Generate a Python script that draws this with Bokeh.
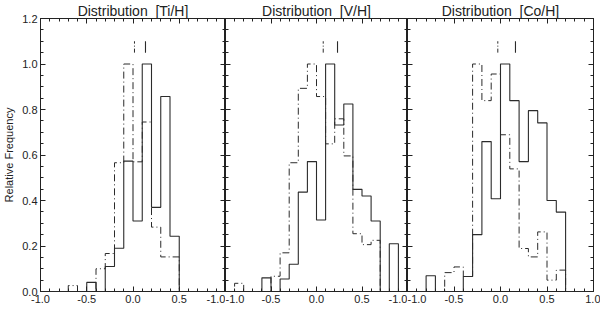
from bokeh.plotting import figure
from bokeh.layouts import row
from bokeh.models import Range1d, LinearAxis, FixedTicker, PrintfTickFormatter
from bokeh.embed import file_html
from bokeh.resources import INLINE

# ---- data ----
bin_edges = [-1.0, -0.9, -0.8, -0.7, -0.6, -0.5, -0.4, -0.3, -0.2, -0.1, 0.0,
             0.1, 0.2, 0.3, 0.4, 0.5, 0.6, 0.7, 0.8, 0.9, 1.0]

titles = ["Distribution \u00a0[Ti/H]", "Distribution \u00a0[V/H]", "Distribution \u00a0[Co/H]"]

ti_solid = [0, 0, 0, 0, 0, 0.04, 0, 0.11, 0.19, 0.573, 0.31, 1.0, 0.37, 0.857, 0.243, 0, 0, 0, 0, 0]
ti_dash = [0, 0, 0, 0.026, 0, 0, 0.10, 0.167, 0.566, 1.0, 0.57, 0.745, 0.283, 0.152, 0.152, 0, 0, 0, 0, 0]

v_solid = [0, 0, 0, 0, 0.06, 0, 0.055, 0.12, 0.437, 0.571, 0.314, 1.0, 0.732, 0.824, 0.449, 0.42, 0.31, 0, 0.21, 0]
v_dash = [0, 0.036, 0, 0, 0, 0.067, 0.17, 0.566, 0.893, 1.0, 0.857, 0.649, 0.759, 0.596, 0.254, 0.206, 0.225, 0, 0, 0]

co_solid = [0, 0, 0.069, 0, 0, 0, 0.066, 0.25, 0.659, 0.408, 1.0, 0.839, 0.571, 0.795, 0.741, 0.40, 0.349, 0, 0, 0]
co_dash = [0, 0, 0, 0, 0.083, 0.108, 0.066, 1.0, 0.839, 0.956, 0.689, 0.539, 0.189, 0.152, 0.262, 0.05, 0.094, 0, 0, 0]

mean_solid = [0.135, 0.231, 0.161]
mean_dash = [0.016, 0.074, -0.029]
mean_marker_y = [1.05, 1.10]

x_major = [-1.0, -0.5, 0.0, 0.5, 1.0]
y_major = [0.0, 0.2, 0.4, 0.6, 0.8, 1.0, 1.2]
x_minor = [round(-1.0 + 0.1 * k, 2) for k in range(21)]
y_minor = [round(0.05 * k, 2) for k in range(25)]

solids = [ti_solid, v_solid, co_solid]
dashes = [ti_dash, v_dash, co_dash]

# ---- styling ----
FONT = "Liberation Sans"
TXT = "#222222"
LINE = "#2b2b2b"
FRAME_H = 273
frame_widths = [185, 182, 186]


def tick_style(ax, show_labels):
    ax.major_tick_in = 5
    ax.major_tick_out = 0
    ax.minor_tick_in = 3
    ax.minor_tick_out = 0
    ax.axis_line_color = None
    ax.major_tick_line_color = TXT
    ax.minor_tick_line_color = TXT
    if show_labels:
        ax.major_label_text_font = FONT
        ax.major_label_text_font_size = "11px"
        ax.major_label_text_color = TXT
        ax.major_label_standoff = 3
    else:
        ax.major_label_text_font_size = "1px"
        ax.major_label_text_color = None
        ax.major_label_standoff = 0


def make_panel(i):
    last = i == 2
    p = figure(frame_width=frame_widths[i], frame_height=FRAME_H,
               x_range=Range1d(-1.0, 1.0), y_range=Range1d(0.0, 1.2),
               output_backend="svg", toolbar_location=None, min_border=0,
               min_border_right=(7 if last else 0), min_border_left=(0 if i else 32),
               title=titles[i])
    p.title.text_font = FONT
    p.title.text_font_size = "14px"
    p.title.text_font_style = "normal"
    p.title.text_color = TXT
    p.title.align = "center"
    p.title.standoff = 0
    p.xgrid.visible = False
    p.ygrid.visible = False
    p.outline_line_color = "#222222"
    p.outline_line_width = 1
    p.background_fill_color = "white"
    p.border_fill_color = "white"

    xa = p.xaxis[0]
    xa.ticker = FixedTicker(ticks=x_major, minor_ticks=x_minor)
    xa.formatter = PrintfTickFormatter(format="%.1f")
    tick_style(xa, True)
    if not last:
        xa.major_label_overrides = {1: "-1.0"}

    ya = p.yaxis[0]
    ya.ticker = FixedTicker(ticks=y_major, minor_ticks=y_minor)
    ya.formatter = PrintfTickFormatter(format="%.1f")
    tick_style(ya, i == 0)
    if i == 0:
        ya.axis_label = "Relative Frequency"
        ya.axis_label_text_font = FONT
        ya.axis_label_text_font_size = "11px"
        ya.axis_label_text_font_style = "normal"
        ya.axis_label_text_color = TXT
        ya.axis_label_standoff = 4

    top = LinearAxis(ticker=FixedTicker(ticks=x_major, minor_ticks=x_minor))
    tick_style(top, False)
    p.add_layout(top, "above")
    right = LinearAxis(ticker=FixedTicker(ticks=y_major, minor_ticks=y_minor))
    tick_style(right, False)
    p.add_layout(right, "right")

    sol = list(solids[i]) + [0]
    das = list(dashes[i]) + [0]
    p.step(bin_edges, das, mode="after", line_color=LINE, line_width=1,
           line_dash="7 3 1 3")
    p.step(bin_edges, sol, mode="after", line_color=LINE, line_width=1.1)

    p.segment(x0=[mean_dash[i]], y0=[mean_marker_y[0]], x1=[mean_dash[i]], y1=[mean_marker_y[1]],
              line_color=LINE, line_width=1, line_dash="4 2 1 2")
    p.segment(x0=[mean_solid[i]], y0=[mean_marker_y[0]], x1=[mean_solid[i]], y1=[mean_marker_y[1]],
              line_color=LINE, line_width=1.1)
    return p


panels = [make_panel(i) for i in range(3)]
layout = row(*panels)

open("out.html", "w").write(file_html(layout, INLINE))
